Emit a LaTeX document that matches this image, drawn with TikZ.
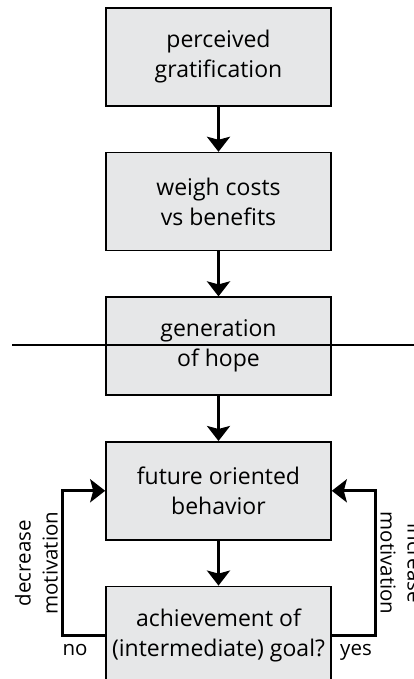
\documentclass[tikz,border=0pt]{standalone}
\usepackage{fontspec}
\setmainfont{Open Sans}
\usetikzlibrary{arrows.meta, positioning}
\definecolor{boxgray}{HTML}{E6E7E8}

\begin{document}
\begin{tikzpicture}[x=1pt, y=1pt,
    node distance=45pt,
    stage/.style={draw, line width=1.6pt, fill=boxgray, minimum width=225pt, minimum height=98pt, inner sep=0pt, align=center, font=\fontsize{23}{30}\selectfont},
    arrow/.style={line width=3pt, -{Stealth[length=15pt, width=23pt, inset=3pt]}},
    tag/.style={font=\fontsize{20.5}{27}\selectfont, align=center, inner sep=3pt}
]
    \useasboundingbox (0,0) rectangle (414,679);
    \clip (0,0) rectangle (414,679);

    % Main column
    \node (grat) [stage] at (218.5,622) {perceived\\gratification};
    \node (weigh) [stage, below=of grat] {weigh costs\\vs benefits};
    \node (hope) [stage, below=of weigh] {generation\\of hope};
    \node (behavior) [stage, below=of hope] {future oriented\\behavior};
    \node (goal) [stage, below=of behavior] {achievement of\\(intermediate) goal?};

    % Cut line across the hope box
    \coordinate (cutL) at (12,334);
    \coordinate (cutR) at (414,334);
    \draw [line width=1.5pt] (cutL) -- (cutR);

    % Connections
    \draw [arrow] (grat) -- (weigh);
    \draw [arrow] (weigh) -- (hope);
    \draw [arrow] (hope) -- (behavior);
    \draw [arrow] (behavior) -- (goal);

    % Feedback loops
    \draw [arrow] (goal.west) -- node[tag, below, pos=0.7, yshift=-4pt] {no} ++(-43,0)
        |- node[tag, pos=0.25, rotate=90, anchor=south] {decrease\\motivation} (behavior.west);
    \draw [arrow] (goal.east) -- node[tag, below, pos=0.55, yshift=-4pt] {yes} ++(44,0)
        |- node[tag, pos=0.25, rotate=-90, anchor=south] {increase\\motivation} (behavior.east);
\end{tikzpicture}
\end{document}
